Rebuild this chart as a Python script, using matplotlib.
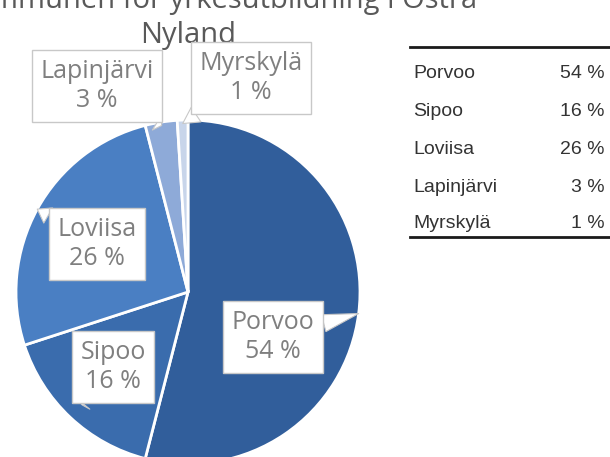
import matplotlib
matplotlib.use("Agg")
import numpy as np
from matplotlib import pyplot as plt

kunnat = ["Porvoo", "Sipoo", "Loviisa", "Lapinjärvi", "Myrskylä"]
osuudet = [54, 16, 26, 3, 1]
varit = ["#315e9b", "#3a6cad", "#4a7fc3", "#8eaad8", "#c8d5ea"]

otsikko_1 = "Samkommunen för yrkesutbildning i Östra"
otsikko_2 = "Nyland"

# label box centres in pixels (y from top) and where the pointer hits (fraction of radius)
label_pos = [(273, 337), (113, 367), (97, 244), (97, 86), (251, 78)]
pointer_r = [1.0, 0.9, 1.0, 0.98, 0.98]

W, H = 610, 457
fig = plt.figure(figsize=(W / 100, H / 100), dpi=100)
ax = fig.add_axes([0, 0, 1, 1])

cx, cy, r = 188, H - 292, 172
wedges, _ = ax.pie(osuudet, colors=varit, startangle=90, counterclock=False,
                   center=(cx, cy), radius=r, frame=True,
                   wedgeprops=dict(edgecolor="white", linewidth=2))
ax.set_xlim(0, W)
ax.set_ylim(0, H)
ax.set_aspect("equal")
ax.axis("off")

# title, first line mostly above the picture
ax.text(188, H - 8, otsikko_1, ha="center", va="baseline", fontsize=21,
        color="#595959", family="Open Sans", zorder=1)
ax.text(188, H - 43, otsikko_2, ha="center", va="baseline", fontsize=21,
        color="#595959", family="Open Sans", zorder=1)

for w, name, val, (lx, ly), pr in zip(wedges, kunnat, osuudet, label_pos, pointer_r):
    mid = np.deg2rad((w.theta1 + w.theta2) / 2)
    px = cx + r * pr * np.cos(mid)
    py = cy + r * pr * np.sin(mid)
    ax.annotate(f"{name}\n{val} %", xy=(px, py), xytext=(lx, H - ly),
                ha="center", va="center", fontsize=18, color="#7f7f7f",
                family="Open Sans", linespacing=1.25, zorder=5,
                bbox=dict(boxstyle="square,pad=0.35", fc="white", ec="#c8c8c8", lw=1),
                arrowprops=dict(arrowstyle="wedge,tail_width=0.7", fc="white",
                                ec="#c8c8c8", lw=0.8, shrinkA=0, shrinkB=0))

# table on the right
tx0, tx1 = 410, 610
ax.plot([tx0, tx1], [H - 47, H - 47], color="#1a1a1a", lw=2)
row_y = [73, 111, 149, 187, 224]
for name, val, yy in zip(kunnat, osuudet, row_y):
    ax.text(413, H - yy, name, ha="left", va="center", fontsize=14,
            color="#333333", family="Liberation Sans")
    ax.text(605, H - yy, f"{val} %", ha="right", va="center", fontsize=14,
            color="#333333", family="Liberation Sans")
ax.plot([tx0, tx1], [H - 237, H - 237], color="#1a1a1a", lw=2)

fig.savefig("out.png", dpi=100)
